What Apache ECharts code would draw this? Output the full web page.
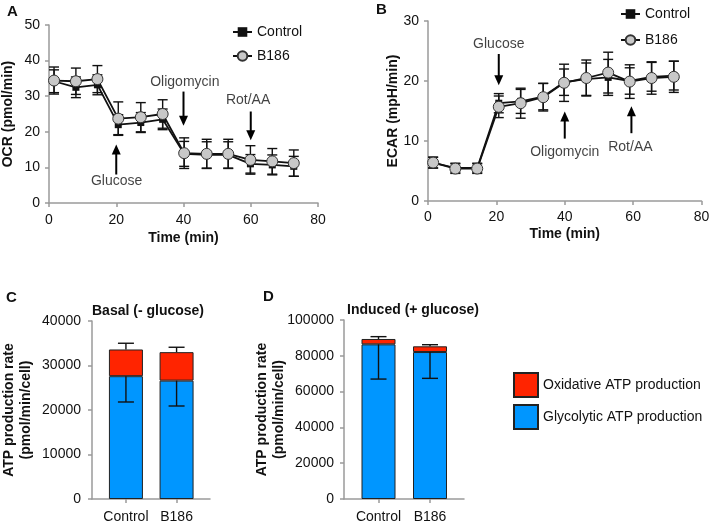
<!DOCTYPE html>
<html><head><meta charset="utf-8">
<script src="https://cdn.jsdelivr.net/npm/echarts@6/dist/echarts.min.js"></script>
<style>html,body{margin:0;padding:0;background:#fff}#c{width:709px;height:524px}</style>
</head><body><div id="c"></div><script>
// ---------- Data ----------
const timeA = [1.5, 8, 14.4, 20.6, 27.3, 33.8, 40.2, 46.9, 53.3, 59.9, 66.4, 72.8];
const ocrControl = [34.2, 32.5, 33.2, 22.0, 22.6, 23.5, 13.8, 13.5, 13.5, 11.0, 10.7, 10.3];
const ocrControlErr = [3.2, 2.9, 2.8, 2.8, 2.8, 2.9, 3.5, 3.7, 3.7, 2.6, 2.8, 2.8];
const ocrB186 = [34.4, 34.2, 34.8, 23.7, 24.1, 25.0, 14.0, 13.8, 13.8, 12.1, 11.7, 11.2];
const ocrB186Err = [3.8, 3.7, 3.8, 4.7, 4.1, 4.0, 4.3, 4.1, 4.1, 4.0, 3.6, 3.7];

const timeB = [1.5, 8, 14.4, 20.7, 27.1, 33.7, 39.8, 46.3, 52.7, 59.0, 65.4, 71.9];
const ecarControl = [6.4, 5.5, 5.5, 16.3, 16.6, 17.4, 19.8, 20.3, 20.6, 20.0, 20.7, 20.9];
const ecarControlErr = [0.9, 0.8, 0.8, 1.6, 2.0, 2.2, 2.2, 2.7, 3.0, 2.2, 2.4, 2.4];
const ecarB186 = [6.4, 5.4, 5.4, 15.7, 16.3, 17.3, 19.7, 20.5, 21.4, 19.9, 20.5, 20.7];
const ecarB186Err = [0.9, 0.8, 0.8, 1.8, 2.5, 2.3, 3.1, 3.0, 3.4, 2.8, 2.7, 2.6];

const barCategories = ['Control', 'B186'];
const basalGlyco = [27600, 26600];
const basalGlycoErr = [5800, 5700];
const basalOxid = [6000, 6400];
const basalTotalErr = [1400, 1100];
const inducedGlyco = [86400, 82100];
const inducedGlycoErr = [19400, 14700];
const inducedOxid = [3000, 3200];
const inducedTotalErr = [1300, 900];

// annotations: [label, textX, textY, arrowX, arrowFromY, arrowTipY]
const notesA = [['Glucose', 20.1, 6.0, 20, 8.0, 16.4], ['Oligomycin', 40.4, 33.9, 40, 31.3, 21.7], ['Rot/AA', 59.2, 29.0, 60, 25.7, 17.6]];
const notesB = [['Glucose', 20.7, 26.1, 20.7, 24.5, 19.3], ['Oligomycin', 40, 8.2, 40, 10.4, 14.9], ['Rot/AA', 59.2, 9.0, 59.5, 11.3, 15.8]];

// ---------- Helpers ----------
const FONT = "'Liberation Sans', Arial, sans-serif";
const AX = '#9a9a9a';
function zip(a, b) { return a.map((v, i) => [v, b[i]]); }
function errData(t, v, e) { return t.map((x, i) => [x, v[i], e[i], e[i]]); }
function errRender(capHalf) {
  return function (params, api) {
    const x = api.value(0), y = api.value(1), lo = api.value(2), hi = api.value(3);
    const top = api.coord([x, y + hi]), bot = api.coord([x, y - lo]);
    const st = { stroke: '#111', lineWidth: 1.4 };
    const ch = [{ type: 'line', shape: { x1: top[0], y1: top[1], x2: bot[0], y2: bot[1] }, style: st }];
    if (hi > 0) ch.push({ type: 'line', shape: { x1: top[0] - capHalf, y1: top[1], x2: top[0] + capHalf, y2: top[1] }, style: st });
    if (lo > 0) ch.push({ type: 'line', shape: { x1: bot[0] - capHalf, y1: bot[1], x2: bot[0] + capHalf, y2: bot[1] }, style: st });
    return { type: 'group', children: ch };
  };
}
function arrowRender(params, api) {
  const x = api.value(0), a = api.coord([x, api.value(1)]), b = api.coord([x, api.value(2)]);
  const dir = b[1] > a[1] ? 1 : -1, hl = 10, hw = 4.5;
  return {
    type: 'group', children: [
      { type: 'line', shape: { x1: a[0], y1: a[1], x2: b[0], y2: b[1] - dir * (hl - 2) }, style: { stroke: '#000', lineWidth: 2 } },
      { type: 'polygon', shape: { points: [[b[0], b[1]], [b[0] - hw, b[1] - dir * hl], [b[0] + hw, b[1] - dir * hl]] }, style: { fill: '#000' } }
    ]
  };
}
function valAxis(idx, min, max, interval, name, nameGap, margin) {
  return {
    type: 'value', gridIndex: idx, min: min, max: max, interval: interval,
    name: name, nameLocation: 'middle', nameGap: nameGap, nameMoveOverlap: false,
    nameTextStyle: { fontFamily: FONT, fontSize: 14, fontWeight: 'bold', color: '#111', lineHeight: 17 },
    axisLine: { show: true, lineStyle: { color: AX, width: 1.5 } },
    axisTick: { show: true, length: 4, lineStyle: { color: AX, width: 1.5 } },
    splitLine: { show: false },
    axisLabel: { fontFamily: FONT, fontSize: 14, color: '#111', margin: margin, formatter: v => String(v) }
  };
}
function noteSeries(notes, idx) {
  return [{
    type: 'scatter', xAxisIndex: idx, yAxisIndex: idx, symbolSize: 0, silent: true, z: 5,
    data: notes.map(n => ({ name: n[0], value: [n[1], n[2]] })),
    label: { show: true, position: 'inside', formatter: '{b}', fontFamily: FONT, fontSize: 14, color: '#111' }
  }, {
    type: 'custom', xAxisIndex: idx, yAxisIndex: idx, silent: true, z: 5, renderItem: arrowRender,
    data: notes.map(n => [n[3], n[4], n[5]])
  }];
}
function lineSeries(name, t, v, idx) {
  const isC = name === 'Control';
  return {
    name: name, type: 'line', xAxisIndex: idx, yAxisIndex: idx, data: zip(t, v), z: isC ? 3 : 4,
    symbol: isC ? 'rect' : 'circle', symbolSize: isC ? 7 : 11,
    itemStyle: isC ? { color: '#111' } : { color: '#c8c8c8', borderColor: '#333', borderWidth: 1 },
    lineStyle: { color: '#111', width: 1.8 }
  };
}
function barSeries(name, vals, idx, color) {
  return {
    name: name, type: 'bar', xAxisIndex: idx, yAxisIndex: idx, stack: 's' + idx, barWidth: 34,
    data: vals.map((v, i) => [v, i + 1]), encode: { x: 1, y: 0 },
    itemStyle: { color: color, borderColor: '#222', borderWidth: 1 }, z: 2
  };
}
function barErr(glyco, gErr, oxid, tErr, idx) {
  const d = [];
  glyco.forEach((g, i) => { d.push([i + 1, g, gErr[i], 0]); d.push([i + 1, g + oxid[i], 0, tErr[i]]); });
  return { type: 'custom', xAxisIndex: idx, yAxisIndex: idx, renderItem: errRender(8), data: d, z: 4, silent: true };
}
const catAxis = (idx) => ({
  type: 'value', gridIndex: idx, min: 0.33, max: 2.66,
  axisLine: { show: true, lineStyle: { color: AX, width: 1.5 } },
  axisTick: { show: true, length: 4, customValues: [1, 2], lineStyle: { color: AX, width: 1.5 } },
  splitLine: { show: false },
  axisLabel: { customValues: [1, 2], formatter: v => barCategories[Math.round(v) - 1], fontFamily: FONT, fontSize: 14, color: '#111', margin: 11 }
});

const RED = '#ff2400', BLUE = '#0096ff';
const legendText = { fontFamily: FONT, fontSize: 14, color: '#111' };

const option = {
  animation: false,
  backgroundColor: '#fff',
  grid: [
    { left: 49, top: 25, width: 269, height: 178, outerBoundsMode: 'none' },
    { left: 428, top: 21, width: 273.5, height: 180, outerBoundsMode: 'none' },
    { left: 92, top: 321, width: 118, height: 178, outerBoundsMode: 'none' },
    { left: 344, top: 320, width: 120, height: 179, outerBoundsMode: 'none' }
  ],
  xAxis: [
    valAxis(0, 0, 80, 20, 'Time (min)', 27, 10),
    valAxis(1, 0, 80, 20, 'Time (min)', 25, 9),
    catAxis(2), catAxis(3)
  ],
  yAxis: [
    valAxis(0, 0, 50, 10, 'OCR (pmol/min)', 32, 9),
    valAxis(1, 0, 30, 10, 'ECAR (mpH/min)', 26, 9),
    valAxis(2, 0, 40000, 10000, 'ATP production rate\n(pmol/min/cell)', 57, 11),
    valAxis(3, 0, 100000, 20000, 'ATP production rate\n(pmol/min/cell)', 56, 10)
  ],
  legend: [
    { data: ['Control', 'B186'], orient: 'vertical', left: 232, top: 25, itemWidth: 19, itemHeight: 12, itemGap: 10, textStyle: legendText, padding: 0 },
    { data: ['Control', 'B186'], orient: 'vertical', left: 620, top: 7, itemWidth: 19, itemHeight: 12, itemGap: 12, textStyle: legendText, padding: 0 },
    { data: ['Oxidative ATP production', 'Glycolytic ATP production'], orient: 'vertical', left: 513, top: 372, itemWidth: 24, itemHeight: 24, itemGap: 6, icon: 'rect', textStyle: { fontFamily: FONT, fontSize: 14, color: '#111' }, padding: 0 }
  ],
  graphic: [
    { type: 'text', left: 7, top: 4, style: { text: 'A', font: 'bold 15px ' + FONT, fill: '#111' } },
    { type: 'text', left: 376, top: 2, style: { text: 'B', font: 'bold 15px ' + FONT, fill: '#111' } },
    { type: 'text', left: 6, top: 290, style: { text: 'C', font: 'bold 15px ' + FONT, fill: '#111' } },
    { type: 'text', left: 263, top: 289, style: { text: 'D', font: 'bold 15px ' + FONT, fill: '#111' } },
    { type: 'text', x: 148, y: 311, style: { text: 'Basal (- glucose)', font: 'bold 14px ' + FONT, fill: '#111', align: 'center', verticalAlign: 'middle' } },
    { type: 'text', x: 413, y: 310, style: { text: 'Induced (+ glucose)', font: 'bold 14px ' + FONT, fill: '#111', align: 'center', verticalAlign: 'middle' } }
  ],
  series: [].concat(
    { type: 'custom', xAxisIndex: 0, yAxisIndex: 0, renderItem: errRender(5), data: errData(timeA, ocrControl, ocrControlErr), z: 1, silent: true },
    { type: 'custom', xAxisIndex: 0, yAxisIndex: 0, renderItem: errRender(5), data: errData(timeA, ocrB186, ocrB186Err), z: 1, silent: true },
    lineSeries('Control', timeA, ocrControl, 0),
    lineSeries('B186', timeA, ocrB186, 0),
    noteSeries(notesA, 0),
    { type: 'custom', xAxisIndex: 1, yAxisIndex: 1, renderItem: errRender(5), data: errData(timeB, ecarControl, ecarControlErr), z: 1, silent: true },
    { type: 'custom', xAxisIndex: 1, yAxisIndex: 1, renderItem: errRender(5), data: errData(timeB, ecarB186, ecarB186Err), z: 1, silent: true },
    lineSeries('Control', timeB, ecarControl, 1),
    lineSeries('B186', timeB, ecarB186, 1),
    noteSeries(notesB, 1),
    barSeries('Glycolytic ATP production', basalGlyco, 2, BLUE),
    barSeries('Oxidative ATP production', basalOxid, 2, RED),
    barErr(basalGlyco, basalGlycoErr, basalOxid, basalTotalErr, 2),
    barSeries('Glycolytic ATP production', inducedGlyco, 3, BLUE),
    barSeries('Oxidative ATP production', inducedOxid, 3, RED),
    barErr(inducedGlyco, inducedGlycoErr, inducedOxid, inducedTotalErr, 3)
  )
};
const chart = echarts.init(document.getElementById('c'), null, { renderer: 'canvas' });
chart.setOption(option);
</script></body></html>
